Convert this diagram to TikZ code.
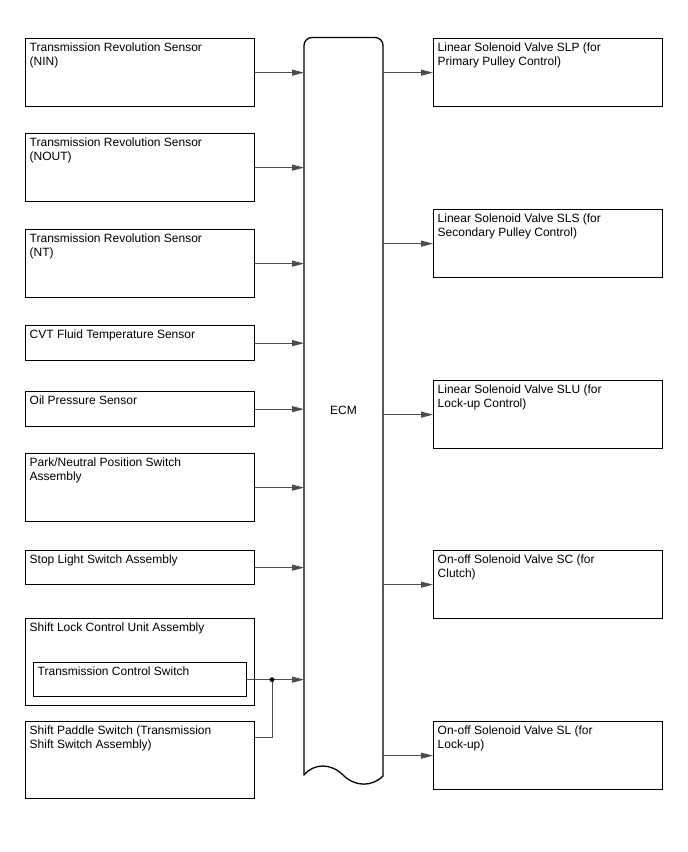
\documentclass[tikz,border=0pt]{standalone}
\usepackage{fontspec}
\setmainfont{Liberation Sans}
\usetikzlibrary{arrows.meta}
\newcommand\mybox[6]{%
  \node[box,minimum width=#4pt,minimum height=#5pt] (#1) at (#2,#3) {};
  \node[lbl] (#1t) at ([xshift=4.5pt,yshift=-3.6pt]#1.north west) {\rule{0pt}{9.5pt}#6};
}
\begin{document}
\begin{tikzpicture}[x=1pt,y=-1pt,
  box/.style={draw=black,line width=1.3pt,inner sep=0pt,anchor=north west},
  lbl/.style={anchor=north west,inner sep=0pt,align=left,font=\fontsize{12}{14}\selectfont},
  conn/.style={draw=black!70,line width=0.9pt},
  arr/.style={conn,-{Triangle[length=12pt,width=6pt]}},
  ecmline/.style={draw=black,line width=1.3pt,line cap=round,line join=round}
]
\useasboundingbox (0,0) rectangle (688,852);

% left inputs
\mybox{l1}{25}{38}{229}{68}{Transmission Revolution Sensor\\(NIN)}
\mybox{l2}{25}{133}{229}{68}{Transmission Revolution Sensor\\(NOUT)}
\mybox{l3}{25}{229}{229}{68}{Transmission Revolution Sensor\\(NT)}
\mybox{l4}{25}{325}{229}{35}{CVT Fluid Temperature Sensor}
\mybox{l5}{25}{391}{229}{35}{Oil Pressure Sensor}
\mybox{l6}{25}{453}{229}{68}{Park/Neutral Position Switch\\Assembly}
\mybox{l7}{25}{550}{229}{34}{Stop Light Switch Assembly}
\mybox{l8}{25}{618}{229}{87}{Shift Lock Control Unit Assembly}
\mybox{in}{33}{662}{213}{34}{Transmission Control Switch}
\mybox{l9}{25}{721}{229}{77}{Shift Paddle Switch (Transmission\\Shift Switch Assembly)}

% right outputs
\mybox{r1}{433}{38}{229}{68}{Linear Solenoid Valve SLP (for\\Primary Pulley Control)}
\mybox{r2}{433}{209}{229}{68}{Linear Solenoid Valve SLS (for\\Secondary Pulley Control)}
\mybox{r3}{433}{380}{229}{68}{Linear Solenoid Valve SLU (for\\Lock-up Control)}
\mybox{r4}{433}{550}{229}{68}{On-off Solenoid Valve SC (for\\Clutch)}
\mybox{r5}{433}{721}{229}{68}{On-off Solenoid Valve SL (for\\Lock-up)}

% ECM
\node[inner sep=0pt,outer sep=0pt,minimum width=79pt,minimum height=737.5pt,anchor=north west] (ecm) at (304,37.5) {};
\draw[ecmline,rounded corners=8pt] (304,775) -- (304,37.5) -- (383,37.5) -- (383,776);
\draw[ecmline] (383,776) .. controls (372,787) and (355,787) .. (343,775)
  .. controls (331,763) and (314,763) .. (304,775);
\node[font=\fontsize{12}{14}\selectfont,inner sep=0pt] (ecmt) at (343.5,410) {ECM};

% connectors
\foreach \n in {l1,l2,l3,l4,l5,l6,l7,in}
  \draw[arr] (\n.east) -- (\n.east -| ecm.west);
\foreach \n in {r1,r2,r3,r4,r5}
  \draw[arr] (\n.west -| ecm.east) -- (\n.west);

\coordinate (jx) at (272,0);
\coordinate (j) at (in.east -| jx);
\coordinate (pout) at ([yshift=-16pt]l9.north east);
\draw[conn] (pout) -| (j);
\fill (j) circle[radius=2.4pt];
\end{tikzpicture}
\end{document}
